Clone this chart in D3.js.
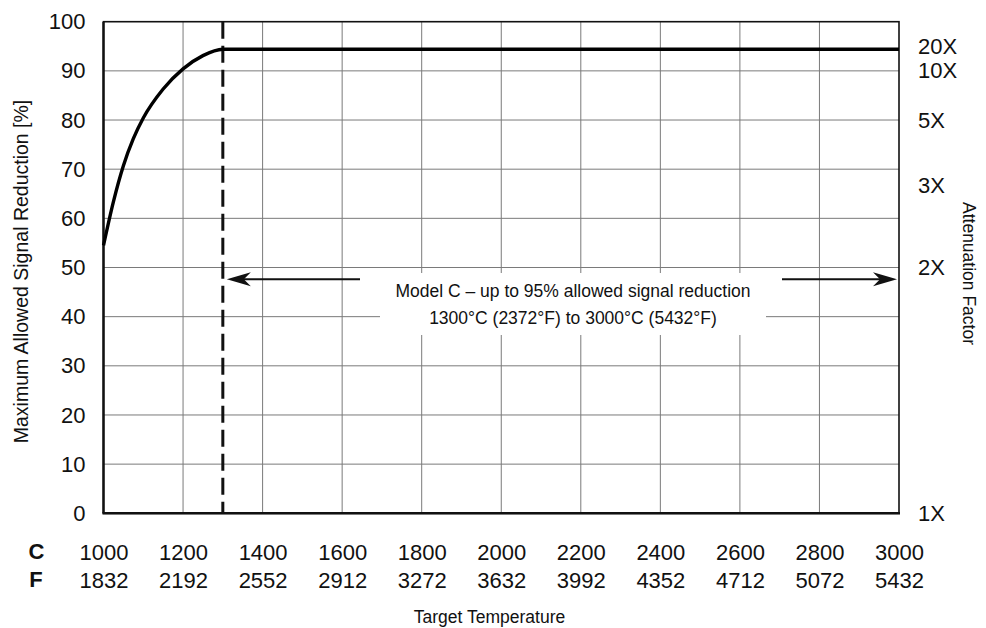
<!DOCTYPE html>
<html>
<head>
<meta charset="utf-8">
<script src="https://cdn.jsdelivr.net/npm/d3@7"></script>
<style>
  body { margin: 0; background: #fff; }
  svg text { font-family: "Liberation Sans", Arial, sans-serif; fill: #111; }
</style>
</head>
<body>
<div id="chart"></div>
<script>
// data
const curveTemp = [1000, 1025, 1050, 1075, 1100, 1150, 1200, 1250, 1300, 3000];
const curveReduction = [54.5, 63.4, 70.7, 76.2, 80.4, 86.3, 90.4, 93.1, 94.4, 94.4];

const cTicks = [1000, 1200, 1400, 1600, 1800, 2000, 2200, 2400, 2600, 2800, 3000];
const fTicks = ["1832", "2192", "2552", "2912", "3272", "3632", "3992", "4352", "4712", "5072", "5432"];
const yTicks = [0, 10, 20, 30, 40, 50, 60, 70, 80, 90, 100];
const factors = [1, 2, 3, 5, 10, 20];

const modelStart = 1300;
const modelEnd = 3000;
const arrowLevel = 47.6;
const noteLines = ["Model C \u2013 up to 95% allowed signal reduction", "1300\u00b0C (2372\u00b0F) to 3000\u00b0C (5432\u00b0F)"];

const W = 986, H = 628;
const margin = { TOP: 21.7, BOTTOM: 114.7, LEFT: 103.5, RIGHT: 87 };

const svg = d3.select("#chart").append("svg")
  .attr("width", W)
  .attr("height", H);

const x = d3.scaleLinear().domain([1000, 3000]).range([margin.LEFT, W - margin.RIGHT]);
const y = d3.scaleLinear().domain([0, 100]).range([H - margin.BOTTOM, margin.TOP]);

//grid
svg.append("g").selectAll("line")
  .data(cTicks.slice(1, -1))
  .enter().append("line")
  .attr("x1", d => x(d)).attr("x2", d => x(d))
  .attr("y1", y(0)).attr("y2", y(100))
  .attr("stroke", "#7a7a7a").attr("stroke-width", 1);

svg.append("g").selectAll("line")
  .data(yTicks.slice(1, -1))
  .enter().append("line")
  .attr("x1", x(1000)).attr("x2", x(3000))
  .attr("y1", d => y(d)).attr("y2", d => y(d))
  .attr("stroke", "#7a7a7a").attr("stroke-width", 1);

//note box hides the grid
svg.append("rect")
  .attr("x", 380).attr("y", 273)
  .attr("width", 386).attr("height", 62)
  .attr("fill", "#fff");

//frame
svg.append("rect")
  .attr("x", x(1000)).attr("y", y(100))
  .attr("width", x(3000) - x(1000)).attr("height", y(0) - y(100))
  .attr("fill", "none").attr("stroke", "#111").attr("stroke-width", 1.6);
svg.append("line")
  .attr("x1", x(1000)).attr("x2", x(1000)).attr("y1", y(100)).attr("y2", y(0))
  .attr("stroke", "#111").attr("stroke-width", 2.4);
svg.append("line")
  .attr("x1", x(1000) - 1).attr("x2", x(3000) + 1).attr("y1", y(0)).attr("y2", y(0))
  .attr("stroke", "#111").attr("stroke-width", 2.4);

//dashed start line
svg.append("line")
  .attr("x1", x(modelStart)).attr("x2", x(modelStart))
  .attr("y1", y(100)).attr("y2", y(0))
  .attr("stroke", "#111").attr("stroke-width", 3)
  .attr("stroke-dasharray", "17 7");

//curve
const line = d3.line()
  .x((d, i) => x(curveTemp[i]))
  .y(d => y(d))
  .curve(d3.curveMonotoneX);

svg.append("path")
  .datum(curveReduction)
  .attr("d", line)
  .attr("fill", "none")
  .attr("stroke", "#000")
  .attr("stroke-width", 3.4);

//axes
const tickFont = 22;

const yAxis = svg.append("g")
  .attr("transform", `translate(${x(1000)},0)`)
  .call(d3.axisLeft(y).tickValues(yTicks).tickSize(0).tickPadding(18));
yAxis.select(".domain").remove();
yAxis.selectAll("text").attr("font-size", tickFont).attr("font-family", null);

const rAxis = svg.append("g")
  .attr("transform", `translate(${x(3000)},0)`)
  .call(d3.axisRight(y)
    .tickValues(factors.map(f => 100 * (1 - 1 / f)))
    .tickFormat((d, i) => factors[i] + "X")
    .tickSize(0).tickPadding(19));
rAxis.select(".domain").remove();
rAxis.selectAll("text").attr("font-size", tickFont).attr("font-family", null);

const cAxis = svg.append("g")
  .attr("transform", `translate(0,${y(0)})`)
  .call(d3.axisBottom(x).tickValues(cTicks).tickFormat(d3.format("d")).tickSize(0).tickPadding(31));
cAxis.select(".domain").remove();
cAxis.selectAll("text").attr("font-size", tickFont).attr("font-family", null);

const fAxis = svg.append("g")
  .attr("transform", `translate(0,${y(0)})`)
  .call(d3.axisBottom(x).tickValues(cTicks).tickFormat((d, i) => fTicks[i]).tickSize(0).tickPadding(59));
fAxis.select(".domain").remove();
fAxis.selectAll("text").attr("font-size", tickFont).attr("font-family", null);

svg.append("text").attr("x", 36.5).attr("y", 559)
  .attr("text-anchor", "middle").attr("font-size", tickFont).attr("font-weight", "bold").text("C");
svg.append("text").attr("x", 36).attr("y", 587)
  .attr("text-anchor", "middle").attr("font-size", tickFont).attr("font-weight", "bold").text("F");

//titles
svg.append("text")
  .attr("transform", `translate(28,${(y(0) + y(100)) / 2 + 4}) rotate(-90)`)
  .attr("text-anchor", "middle")
  .attr("font-size", 19.5)
  .text("Maximum Allowed Signal Reduction [%]");

svg.append("text")
  .attr("transform", `translate(963,273.5) rotate(90)`)
  .attr("text-anchor", "middle")
  .attr("font-size", 17.5)
  .text("Attenuation Factor");

svg.append("text")
  .attr("x", 489.5).attr("y", 623)
  .attr("text-anchor", "middle")
  .attr("font-size", 17.5)
  .text("Target Temperature");

//note
svg.selectAll(".note")
  .data(noteLines)
  .enter().append("text")
  .attr("class", "note")
  .attr("x", 573)
  .attr("y", (d, i) => 296.5 + i * 27.5)
  .attr("text-anchor", "middle")
  .attr("font-size", 17.5)
  .text(d => d);

//arrows
const ay = y(arrowLevel);
function arrowHead(tip, dir) {
  return `M${tip},${ay} L${tip + dir * 24},${ay - 7} L${tip + dir * 17},${ay} L${tip + dir * 24},${ay + 7} Z`;
}
svg.append("line")
  .attr("x1", x(modelStart) + 10).attr("x2", 360)
  .attr("y1", ay).attr("y2", ay)
  .attr("stroke", "#111").attr("stroke-width", 2);
svg.append("path").attr("d", arrowHead(x(modelStart) + 4, 1)).attr("fill", "#111");

svg.append("line")
  .attr("x1", 782).attr("x2", x(modelEnd) - 10)
  .attr("y1", ay).attr("y2", ay)
  .attr("stroke", "#111").attr("stroke-width", 2);
svg.append("path").attr("d", arrowHead(x(modelEnd) - 2, -1)).attr("fill", "#111");
</script>
</body>
</html>
